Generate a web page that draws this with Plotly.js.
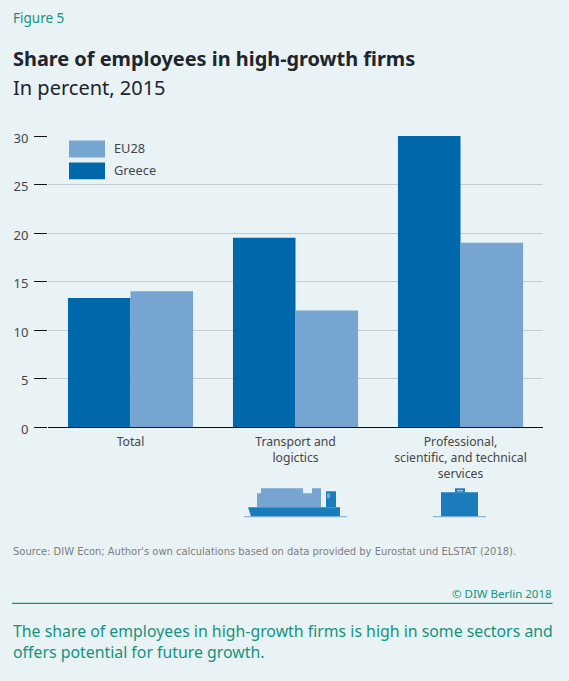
<!DOCTYPE html>
<html><head><meta charset="utf-8">
<script src="https://cdn.plot.ly/plotly-3.0.1.min.js"></script>
<style>html,body{margin:0;padding:0;background:#e9f2f4}</style></head>
<body><div id="chart" style="width:569px;height:681px"></div>
<script>
const categories = ["Total", "Transport and<br>logictics", "Professional,<br>scientific, and technical<br>services"];
const greece = [13.3, 19.5, 30];
const eu28 = [14, 12, 19];
const seriesNames = ["Greece", "EU28"];
const yTicks = [0, 5, 10, 15, 20, 25, 30];
const titleText = "Share of employees in high-growth firms";
const subtitleText = "In percent, 2015";
const figureText = "Figure 5";
const sourceText = "Source: DIW Econ; Author's own calculations based on data provided by Eurostat und ELSTAT (2018).";
const creditText = "© DIW Berlin 2018";
const noteLines = "The share of employees in high-growth firms is high in some sectors and<br>offers potential for future growth.";

const BG="#e9f2f4", DARK="#0068aa", LIGHT="#76a5d2", TEAL="#15937f", INK="#43474a", ICON="#1a7cbb";
const L=48,R=543,T=135.5,B=427.5;
const px=x=>(x-L)/(R-L), py=y=>(B-y)/(B-T);
const FONT="Noto Sans";
function label(text,x,y,size,color,opts){return Object.assign({text,x:px(x),y:py(y),xref:"paper",yref:"paper",xanchor:"left",yanchor:"middle",showarrow:false,align:"left",font:{family:FONT,size,color}},opts||{});}
function rect(x0,y0,x1,y1,color){return {type:"rect",xref:"paper",yref:"paper",x0:px(x0),y0:py(y0),x1:px(x1),y1:py(y1),fillcolor:color,line:{width:0},layer:"above"};}
function hline(x0,x1,y,color,w){return {type:"line",xref:"paper",yref:"paper",x0:px(x0),x1:px(x1),y0:py(y),y1:py(y),line:{color,width:w},layer:"above"};}
function poly(pts,color){return {type:"path",xref:"paper",yref:"paper",path:"M"+pts.map(p=>px(p[0])+","+py(p[1])).join("L")+"Z",fillcolor:color,line:{width:0},layer:"above"};}

const shapes=[
 rect(69,140,105,157,LIGHT), rect(69,162,105,179,DARK),
 hline(12,552.5,604.5,TEAL,1.2),
 // ship
 poly([[261,489],[303,489],[303,494],[312,494],[312,489],[321,489],[321,508],[257,508],[257,494],[261,494]],LIGHT),
 rect(326,492,336,508,ICON), rect(327,494,330,499,LIGHT),
 poly([[248,508],[340,508],[340,517],[251,517]],ICON),
 hline(244,347,517.5,LIGHT,1),
 // case
 rect(441,493,478,517,ICON), rect(455,489,465,493,ICON), rect(457,491,463,492,"#d8e8f0"),
 hline(433,486,517.5,LIGHT,1)
];
const annotations=[
 label(figureText,11,17,13.5,TEAL),
 label(subtitleText,11,87,20,"#20242c"),
 label(seriesNames[1],112,147.5,12.8,INK),
 label(seriesNames[0],112,169.5,12.8,INK),
 label(sourceText,11,552,11,"#7d7f80",{font:{family:"DejaVu Sans Condensed",size:11.05,color:"#7d7f80"}}),
 label(creditText,554,595,11.5,TEAL,{xanchor:"right",align:"right"}),
 label(noteLines,11,642.5,15.85,TEAL)
];
const data=[
 {type:"bar",name:seriesNames[0],x:categories,y:greece,marker:{color:DARK,line:{width:0}}},
 {type:"bar",name:seriesNames[1],x:categories,y:eu28,marker:{color:LIGHT,line:{width:0}}}
];
const layout={
 width:569,height:681,paper_bgcolor:BG,plot_bgcolor:BG,showlegend:false,
 margin:{l:L,r:569-R,t:T,b:681-B,pad:0},
 barmode:"group",bargap:0.242,bargroupgap:0,
 font:{family:FONT,size:12,color:INK},
 title:{text:"<b>"+titleText+"</b>",x:13/569,xanchor:"left",xref:"container",y:1-59/681,yanchor:"middle",font:{family:FONT,size:19.9,color:"#20242c"}},
 xaxis:{type:"category",tickfont:{family:FONT,size:12.2,color:INK},ticks:"",ticklabelstandoff:6,showline:false,showgrid:false,zeroline:false,automargin:false},
 yaxis:{range:[0,30],tickvals:yTicks,ticks:"outside",ticklen:13,tickwidth:1,tickcolor:"#111",ticklabelstandoff:3,ticklabelshift:2,gridcolor:"#c3cccf",gridwidth:1,showline:false,zeroline:true,zerolinecolor:"#111",zerolinewidth:1,tickfont:{family:FONT,size:13,color:INK},automargin:false},
 shapes,annotations
};
Plotly.newPlot("chart",data,layout,{displayModeBar:false,staticPlot:true});
</script></body></html>
